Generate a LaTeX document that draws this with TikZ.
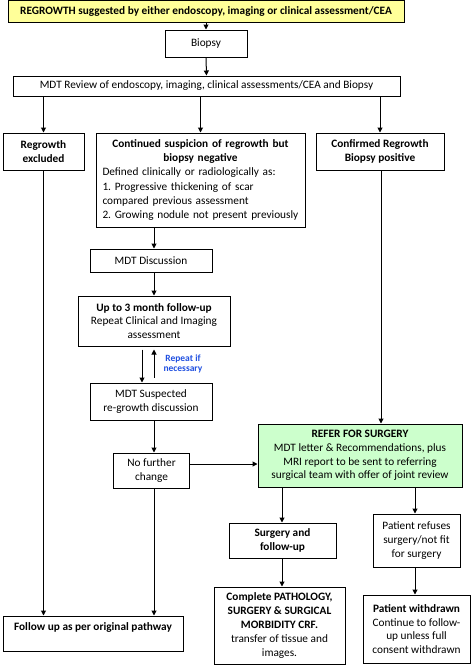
\documentclass[tikz,border=0pt]{standalone}
\usepackage{fontspec}
\setmainfont{Carlito}
\frenchspacing
\usetikzlibrary{arrows.meta,calc}
\definecolor{yel}{HTML}{FFFF99}
\definecolor{grn}{HTML}{CCFFCC}
\definecolor{repblue}{HTML}{1F4FE0}
\newcommand{\fsz}{\fontsize{11.3}{13.8}\selectfont}
\begin{document}
\begin{tikzpicture}[x=1pt,y=-1pt,
  box/.style={draw=black,line width=1pt,inner sep=2pt,align=center,font=\fsz},
  arr/.style={line width=1pt,-{Triangle[width=5pt,length=5pt]}},
  ln/.style={line width=1pt}]
\useasboundingbox (0,0) rectangle (474,665);
\node[box,fill=yel,minimum width=396pt,minimum height=22pt,font=\fsz\bfseries] (top) at (206,11) {REGROWTH suggested by either endoscopy, imaging or clinical assessment/CEA};
\node[box,minimum width=82pt,minimum height=27pt] (biopsy) at (206,43.5) {Biopsy};
\node[box,minimum width=387pt,minimum height=20pt] (review) at (206.5,86) {MDT Review of endoscopy, imaging, clinical assessments/CEA and Biopsy};
\node[box,minimum width=81pt,minimum height=37pt,font=\fsz\bfseries] (excl) at (43.5,151.5) {Regrowth\\excluded};
\node[box,minimum width=209pt,minimum height=94pt,text width=196pt,align=left,font=\fontsize{11.3}{14.3}\selectfont] (cont) at (200.5,180) {{\centering\bfseries Continued suspicion of regrowth but\\biopsy negative\par}Defined clinically or radiologically as:\\1. Progressive thickening of scar\\compared previous assessment\\2. Growing nodule not present previously};
\node[box,minimum width=128pt,minimum height=37pt,font=\fsz\bfseries] (conf) at (380,151.5) {Confirmed Regrowth\\Biopsy positive};
\node[box,minimum width=122pt,minimum height=23pt] (mdtd) at (151,260.5) {MDT Discussion};
\node[box,minimum width=152pt,minimum height=50pt] (fu) at (154,321) {\textbf{Up to 3 month follow-up}\\Repeat Clinical and Imaging\\assessment};
\node[box,minimum width=122pt,minimum height=37pt] (mdts) at (151,401.5) {MDT Suspected\\re-growth discussion};
\node[box,minimum width=76pt,minimum height=35pt] (nfc) at (151.5,470.5) {No further\\change};
\node[box,fill=grn,minimum width=204pt,minimum height=63pt] (refer) at (360,455.5) {\textbf{REFER FOR SURGERY}\\MDT letter \& Recommendations, plus\\MRI report to be sent to referring\\surgical team with offer of joint review};
\node[box,minimum width=107pt,minimum height=35pt,font=\fsz\bfseries] (surg) at (282.5,540.5) {Surgery and\\follow-up};
\node[box,minimum width=87pt,minimum height=53pt] (refuse) at (416.5,540.5) {Patient refuses\\surgery/not fit\\for surgery};
\node[box,minimum width=131pt,minimum height=77pt] (complete) at (279.5,625.5) {\textbf{Complete PATHOLOGY,}\\\textbf{SURGERY \& SURGICAL}\\\textbf{MORBIDITY CRF.}\\transfer of tissue and\\images.};
\node[box,minimum width=107pt,minimum height=68pt] (withdrawn) at (416.5,629) {\textbf{Patient withdrawn}\\Continue to follow-\\up unless full\\consent withdrawn};
\node[draw=black,line width=1pt,minimum width=180pt,minimum height=35pt] (follow) at (93,633.5) {};
\node[font=\fsz\bfseries,anchor=center] (followtxt) at (93,627) {Follow up as per original pathway};
\node[font=\fontsize{9.5}{10.5}\selectfont\bfseries,text=repblue,align=center] (rep) at (183,364) {Repeat if\\necessary};
% connectors
\draw[arr] (top.south) -- (biopsy.north);
\draw[arr] (biopsy.south) -- (review.north);
\draw[arr] (review.south -| excl.north) -- (excl.north);
\draw[arr] (review.south -| cont.north) -- (cont.north);
\draw[arr] (review.south -| conf.north) -- (conf.north);
\draw[arr] (cont.south -| fu.north) -- (mdtd.north -| fu.north);
\draw[arr] (mdtd.south -| fu.north) -- (fu.north);
\coordinate (dA) at ($(fu.south)+(-12,3)$);
\coordinate (uA) at ($(mdts.north -| fu.south)+(0,-5)$);
\draw[arr] (dA) -- (mdts.north -| dA);
\draw[arr] (uA) -- ($(fu.south)+(0,3)$);
\draw[arr] (mdts.south -| fu.north) -- (nfc.north -| fu.north);
\coordinate (nfcR) at ($(nfc.east)+(0,-6.5)$);
\draw[arr] (nfcR) -- (refer.west |- nfcR);
\draw[arr] (nfc.south -| fu.north) -- (follow.north -| fu.north);
\draw[arr] (excl.south) -- (follow.north -| excl.south);
\draw[arr] (conf.south -| 381,0) -- (refer.north -| 381,0);
\draw[arr] (refer.south -| 282,0) -- (surg.north -| 282,0);
\draw[arr] (refer.south -| 415,0) -- (refuse.north -| 415,0);
\draw[arr] (surg.south -| 282,0) -- (complete.north -| 282,0);
\draw[arr] (refuse.south -| 415,0) -- (withdrawn.north -| 415,0);
\end{tikzpicture}
\end{document}
